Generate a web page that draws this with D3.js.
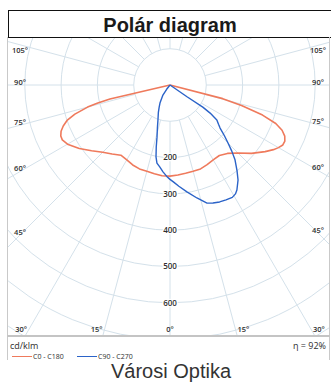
<!DOCTYPE html>
<html>
<head>
<meta charset="utf-8">
<script src="https://cdn.jsdelivr.net/npm/d3@7"></script>
<style>
  html, body { margin: 0; padding: 0; background: #fff; }
  svg { display: block; }
</style>
</head>
<body>
<svg id="chart" width="331" height="382"></svg>
<script>
// Luminous intensity in cd/klm, gamma measured from nadir (0° = straight down)
const gammaC0    = [0, 5, 10, 15, 20, 25, 30, 35, 40, 45, 50, 55, 58, 60, 62, 64, 66, 68, 70, 72, 74, 75.5, 76];
const valuesC0   = [251, 249, 247, 246, 246, 242, 238, 237, 246, 265, 293, 320, 336, 345, 352, 352, 346, 333, 310, 268, 205, 150, 0];
const gammaC180  = [0, 5, 10, 15, 20, 25, 30, 35, 40, 45, 50, 55, 60, 63, 65, 67, 69, 71, 73, 75, 76, 76.8, 77];
const valuesC180 = [251, 251, 248, 246, 246, 243, 238, 236, 248, 262, 282, 305, 326, 333, 332, 326, 315, 300, 274, 235, 205, 170, 0];
const gammaC90   = [0, 2, 5, 9, 13.4, 17.4, 20, 23, 26, 29, 31, 32.5, 35.6, 38, 41, 43, 45, 47, 49.3, 51, 53.3, 55, 56, 55.3, 54];
const valuesC90  = [260, 267, 280, 298, 320, 341, 346, 350, 352, 354, 350, 343, 322, 300, 273, 250, 226, 205, 182, 172, 161, 135, 109, 57, 0];
const gammaC270  = [0, 2, 4.6, 7, 9.5, 11, 12.5, 14, 16.5, 19, 23, 26, 29, 35, 38, 40];
const valuesC270 = [260, 252, 240, 228, 218, 202, 175, 148, 122, 102, 82, 68, 57, 34, 15, 0];

const ringValues   = [100, 200, 300, 400, 500, 600, 700, 800, 900];
const ringLabels   = [200, 300, 400, 500, 600];
const spokeAngles  = d3.range(0, 360, 15);
const sideLabels   = [105, 90, 75, 60, 45];
const bottomLabels = [30, 15, 0];
const seriesNames  = ["C0 - C180", "C90 - C270"];
const titleText    = "Polár diagram";
const unitText     = "cd/klm";
const etaText      = "η = 92%";
const footerText   = "Városi Optika";

const colors = { c0: "#ef7a5c", c90: "#2b63c8", grid: "#d4e1ea", text: "#2e2e2e" };

const svg = d3.select("#chart");
const plot = { x0: 8, x1: 330, y0: 38, y1: 336 };
const cx = 170, cy = 85;
const r = d3.scaleLinear().domain([0, 100]).range([0, 36.3]);
const rad = d => d * Math.PI / 180;

// Title box
svg.append("rect").attr("x", 8.5).attr("y", 10.5).attr("width", 330).attr("height", 27)
  .attr("fill", "#fff").attr("stroke", "#111").attr("stroke-width", 1);
svg.append("text").attr("x", 170).attr("y", 32).attr("text-anchor", "middle")
  .attr("font-family", "Liberation Sans, Arial, sans-serif").attr("font-weight", "bold")
  .attr("font-size", 20).attr("fill", "#1a1a1a").text(titleText);

// Plot area clip
svg.append("defs").append("clipPath").attr("id", "plotClip")
  .append("rect").attr("x", plot.x0).attr("y", plot.y0)
  .attr("width", plot.x1 - plot.x0).attr("height", plot.y1 - plot.y0);

const grid = svg.append("g").attr("clip-path", "url(#plotClip)");

// Concentric intensity rings
grid.selectAll("circle.ring").data(ringValues).join("circle")
  .attr("class", "ring").attr("cx", cx).attr("cy", cy).attr("r", d => r(d))
  .attr("fill", "none").attr("stroke", colors.grid).attr("stroke-width", 1);

// Radial spokes, starting at the first ring
grid.selectAll("line.spoke").data(spokeAngles).join("line")
  .attr("class", "spoke")
  .attr("x1", a => cx + r(100) * Math.sin(rad(a)))
  .attr("y1", a => cy - r(100) * Math.cos(rad(a)))
  .attr("x2", a => cx + r(1200) * Math.sin(rad(a)))
  .attr("y2", a => cy - r(1200) * Math.cos(rad(a)))
  .attr("stroke", colors.grid).attr("stroke-width", 1);

// Plot frame
svg.append("line").attr("x1", 7.5).attr("x2", 7.5).attr("y1", 37).attr("y2", 360)
  .attr("stroke", "#c9c9c9").attr("stroke-width", 1);
svg.append("line").attr("x1", 329.5).attr("x2", 329.5).attr("y1", 37).attr("y2", 360)
  .attr("stroke", "#c9c9c9").attr("stroke-width", 1);
svg.append("line").attr("x1", 7.5).attr("x2", 330).attr("y1", 336).attr("y2", 336)
  .attr("stroke", "#c4c4c4").attr("stroke-width", 2);

// Ring value labels along the nadir axis
const labelFont = "Open Sans, Liberation Sans, sans-serif";
svg.append("g").selectAll("text").data(ringLabels).join("text")
  .attr("x", cx).attr("y", d => cy + r(d)).attr("dy", "0.35em")
  .attr("text-anchor", "middle").attr("font-family", labelFont).attr("font-size", 8)
  .attr("font-weight", 600)
  .attr("fill", colors.text).attr("stroke", "#fff").attr("stroke-width", 2.5)
  .attr("paint-order", "stroke").text(d => d);

// Gamma angle labels on the frame
const angLabels = svg.append("g").attr("font-family", labelFont).attr("font-size", 7.5)
  .attr("font-weight", 600).attr("fill", colors.text).attr("text-anchor", "middle");
[[20, -1], [318, 1]].forEach(([lx, side]) => {
  sideLabels.forEach(a => {
    let y = cy + Math.abs(lx - cx) / Math.tan(rad(a)) - 3;
    y = Math.max(y, plot.y0 + 12);
    angLabels.append("text").attr("x", lx).attr("y", y).attr("dy", "0.35em").text(a + "°");
  });
});
const by = 329;
bottomLabels.forEach(a => {
  const off = a === 0 ? 0 : (by - cy) * Math.tan(rad(a)) + 8;
  const xs = a === 0 ? [cx] : [cx - off, cx + off];
  xs.forEach(x => angLabels.append("text").attr("x", x).attr("y", by).attr("dy", "0.35em").text(a + "°"));
});

// Curves
const radial = d3.lineRadial().angle(d => d[0]).radius(d => r(d[1])).curve(d3.curveLinear);
function halfPoints(gammas, values, side) {
  // side: +1 right half (C0 / C90), -1 left half (C180 / C270)
  return gammas.map((g, i) => [Math.PI - side * rad(g), values[i]]);
}
const orangePts = halfPoints(gammaC180, valuesC180, -1).reverse()
  .concat(halfPoints(gammaC0, valuesC0, 1));
const bluePts = halfPoints(gammaC270, valuesC270, -1).reverse()
  .concat(halfPoints(gammaC90, valuesC90, 1));

const curves = svg.append("g").attr("transform", `translate(${cx},${cy})`);
curves.append("path").attr("d", radial(orangePts)).attr("fill", "none")
  .attr("stroke", colors.c0).attr("stroke-width", 1.6).attr("stroke-linejoin", "round");
curves.append("path").attr("d", radial(bluePts)).attr("fill", "none")
  .attr("stroke", colors.c90).attr("stroke-width", 1.4).attr("stroke-linejoin", "round");

// Unit, efficiency and legend
svg.append("text").attr("x", 10).attr("y", 349).attr("font-family", labelFont)
  .attr("font-size", 9).attr("fill", colors.text).text(unitText);
svg.append("text").attr("x", 326).attr("y", 349).attr("text-anchor", "end")
  .attr("font-family", labelFont).attr("font-size", 9).attr("fill", colors.text).text(etaText);

const legend = svg.append("g");
[[12, colors.c0, seriesNames[0]], [77, colors.c90, seriesNames[1]]].forEach(([x, c, name]) => {
  legend.append("line").attr("x1", x).attr("x2", x + 20).attr("y1", 356.5).attr("y2", 356.5)
    .attr("stroke", c).attr("stroke-width", 1);
  legend.append("text").attr("x", x + 21).attr("y", 356.5).attr("dy", "0.35em")
    .attr("font-family", labelFont).attr("font-size", 7).attr("fill", colors.text).text(name);
});

// Footer
svg.append("text").attr("x", 171).attr("y", 378).attr("text-anchor", "middle")
  .attr("font-family", "Liberation Sans, Arial, sans-serif").attr("font-size", 20)
  .attr("fill", "#333").text(footerText);
</script>
</body>
</html>
